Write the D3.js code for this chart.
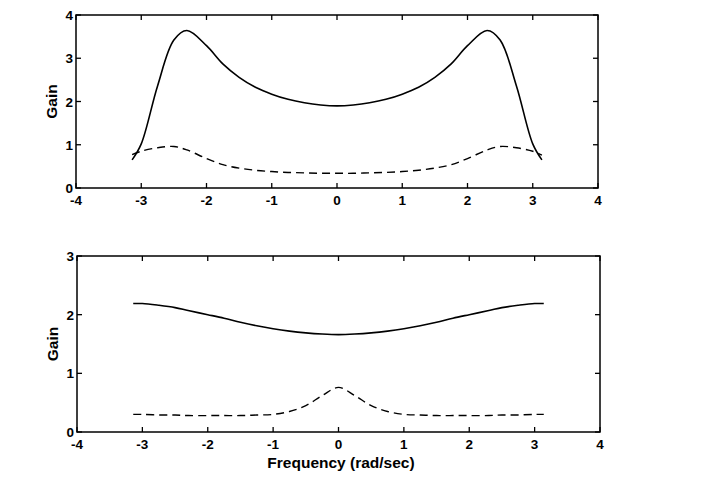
<!DOCTYPE html>
<html lang="en">
  <head>
    <meta charset="utf-8" />
    <title>gain vs frequency</title>
    <script type="text/javascript" src="https://d3js.org/d3.v7.min.js"></script>
    <style>
      body { margin: 0; background: #fff; }
      text { font-family: "Liberation Sans", Arial, sans-serif; font-weight: bold; fill: #000; }
    </style>
  </head>
  <body>
    <div id="graph"></div>

    <script type="text/javascript">
      /***************
       * data
       ***************/

      const freq = [-3.14, -3, -2.75, -2.5, -2.3, -2, -1.75, -1.5, -1.25, -1, -0.75, -0.5, -0.25, 0,
                    0.25, 0.5, 0.75, 1, 1.25, 1.5, 1.75, 2, 2.3, 2.5, 2.75, 3, 3.14];

      // upper panel
      const topSolid = [0.65, 1.02, 2.36, 3.42, 3.64, 3.29, 2.87, 2.56, 2.33, 2.17, 2.05, 1.97, 1.92, 1.9,
                        1.92, 1.97, 2.05, 2.17, 2.33, 2.56, 2.87, 3.29, 3.64, 3.42, 2.36, 1.02, 0.65];
      const topDashed = [0.77, 0.85, 0.93, 0.96, 0.88, 0.68, 0.54, 0.46, 0.41, 0.38, 0.36, 0.35, 0.34, 0.34,
                         0.34, 0.35, 0.36, 0.38, 0.41, 0.46, 0.54, 0.68, 0.88, 0.96, 0.93, 0.85, 0.76];

      // lower panel
      const botSolid = [2.19, 2.19, 2.16, 2.12, 2.07, 2.0, 1.94, 1.87, 1.81, 1.76, 1.72, 1.69, 1.67, 1.66,
                        1.67, 1.69, 1.72, 1.76, 1.81, 1.87, 1.94, 2.0, 2.07, 2.12, 2.16, 2.19, 2.19];
      const botDashed = [0.3, 0.3, 0.29, 0.29, 0.28, 0.28, 0.28, 0.28, 0.29, 0.3, 0.35, 0.45, 0.62, 0.76,
                         0.62, 0.45, 0.35, 0.3, 0.29, 0.28, 0.28, 0.28, 0.28, 0.29, 0.29, 0.3, 0.3];

      const xTicks = [-4, -3, -2, -1, 0, 1, 2, 3, 4];

      /***************
       * svg
       ***************/

      const width = 719;
      const height = 482;

      const svg = d3.select("div#graph")
        .append("svg")
        .attr("width", width)
        .attr("height", height);

      // one panel: box, ticks, labels, two lines
      function panel(box, yMax, solid, dashed) {
        const x = d3.scaleLinear().domain([-4, 4]).range([box.left, box.right]);
        const y = d3.scaleLinear().domain([0, yMax]).range([box.bottom, box.top]);
        const yTicks = d3.range(0, yMax + 1);
        const g = svg.append("g");

        // ticks inside on all four sides
        const tk = 5;
        xTicks.forEach(function (t) {
          g.append("line").attr("x1", x(t)).attr("x2", x(t))
            .attr("y1", box.bottom).attr("y2", box.bottom - tk).attr("stroke", "#000").attr("stroke-width", 1.3);
          g.append("line").attr("x1", x(t)).attr("x2", x(t))
            .attr("y1", box.top).attr("y2", box.top + tk).attr("stroke", "#000").attr("stroke-width", 1.3);
          g.append("text").attr("x", x(t)).attr("y", box.bottom + 17)
            .attr("text-anchor", "middle").attr("font-size", 13.5).text(t);
        });
        yTicks.forEach(function (t) {
          g.append("line").attr("x1", box.left).attr("x2", box.left + tk)
            .attr("y1", y(t)).attr("y2", y(t)).attr("stroke", "#000").attr("stroke-width", 1.3);
          g.append("line").attr("x1", box.right).attr("x2", box.right - tk)
            .attr("y1", y(t)).attr("y2", y(t)).attr("stroke", "#000").attr("stroke-width", 1.3);
          g.append("text").attr("x", box.left - 3).attr("y", y(t) + 5)
            .attr("text-anchor", "end").attr("font-size", 13.5).text(t);
        });

        g.append("rect")
          .attr("x", box.left).attr("y", box.top)
          .attr("width", box.right - box.left).attr("height", box.bottom - box.top)
          .attr("fill", "none").attr("stroke", "#000").attr("stroke-width", 1.5);

        g.append("text")
          .attr("transform", "translate(" + (box.left - 19) + "," + (box.top + box.bottom) / 2 + ") rotate(-90)")
          .attr("text-anchor", "middle").attr("font-size", 15.5).text("Gain");

        const line = d3.line()
          .x(function (d, i) { return x(freq[i]); })
          .y(function (d) { return y(d); })
          .curve(d3.curveCatmullRom.alpha(0.5));

        g.append("path").attr("d", line(solid))
          .attr("fill", "none").attr("stroke", "#000").attr("stroke-width", 1.6);
        g.append("path").attr("d", line(dashed))
          .attr("fill", "none").attr("stroke", "#000").attr("stroke-width", 1.4)
          .attr("stroke-dasharray", "8,5");
      }

      panel({ left: 76, right: 598, top: 15, bottom: 188 }, 4, topSolid, topDashed);
      panel({ left: 77, right: 600, top: 256, bottom: 432 }, 3, botSolid, botDashed);

      svg.append("text")
        .attr("x", 341).attr("y", 468)
        .attr("text-anchor", "middle").attr("font-size", 15.5)
        .text("Frequency (rad/sec)");
    </script>
  </body>
</html>
